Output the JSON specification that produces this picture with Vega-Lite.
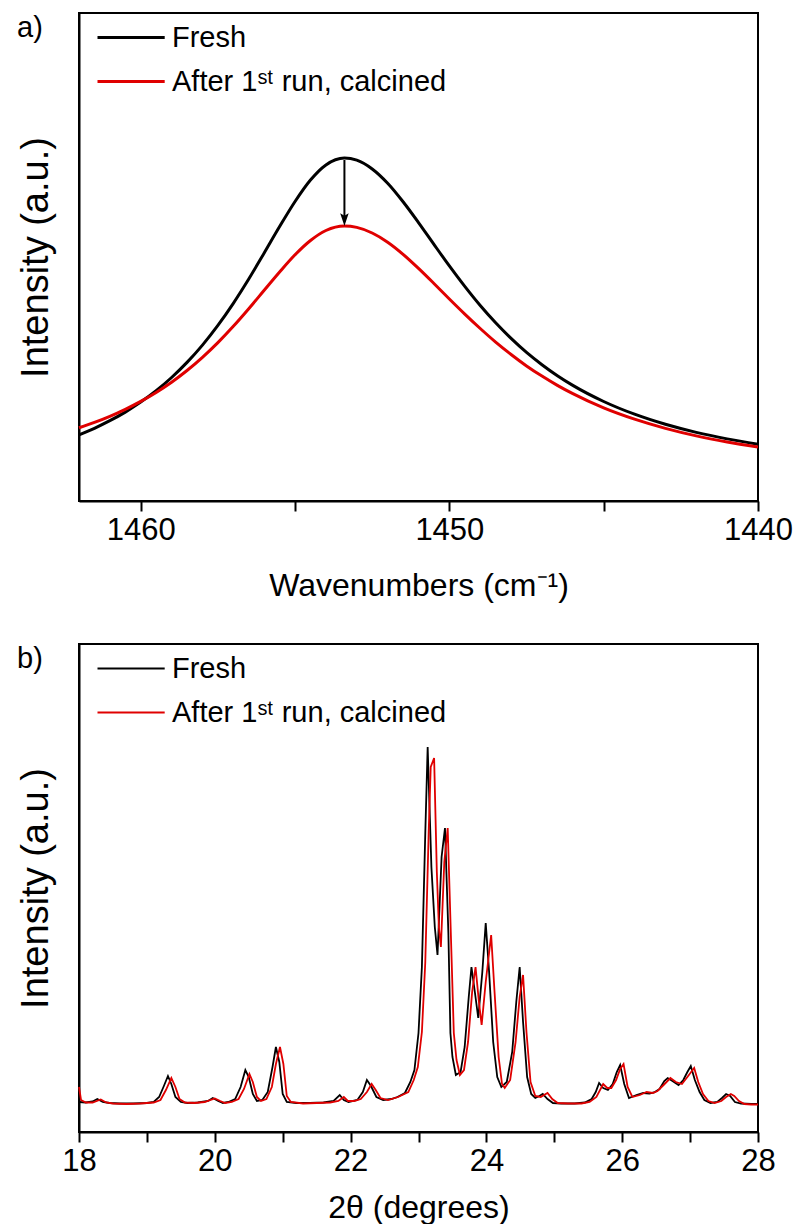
{
  "$schema": "https://vega.github.io/schema/vega-lite/v6.json",
  "background": "white",
  "padding": {"left": 16, "top": 12, "right": 5, "bottom": 0},
  "spacing": 41,
  "config": {
    "font": "Liberation Sans",
    "view": {"stroke": "black", "strokeWidth": 2},
    "axis": {"grid": false, "labelFont": "Liberation Sans", "titleFont": "Liberation Sans", "labelFontSize": 31, "titleFontSize": 32, "titleFontWeight": "normal", "labelColor": "black", "titleColor": "black", "domainColor": "black", "domainWidth": 2, "tickColor": "black", "tickWidth": 2},
    "title": {"font": "Liberation Sans", "fontSize": 29, "fontWeight": "normal", "anchor": "start", "frame": "bounds", "baseline": "top", "offset": -30, "color": "black"},
    "legend": {"labelFont": "Liberation Sans", "labelFontSize": 29, "labelColor": "black", "labelLimit": 600, "padding": 0}
  },
  "datasets": {
    "ir": [
      {"wavenumber": 1462, "intensity": 66.1, "sample": "Fresh"},
      {"wavenumber": 1461.5, "intensity": 72.7, "sample": "Fresh"},
      {"wavenumber": 1461, "intensity": 80.3, "sample": "Fresh"},
      {"wavenumber": 1460.5, "intensity": 88.9, "sample": "Fresh"},
      {"wavenumber": 1460, "intensity": 98.9, "sample": "Fresh"},
      {"wavenumber": 1459.5, "intensity": 110.3, "sample": "Fresh"},
      {"wavenumber": 1459, "intensity": 123.5, "sample": "Fresh"},
      {"wavenumber": 1458.5, "intensity": 138.6, "sample": "Fresh"},
      {"wavenumber": 1458, "intensity": 155.9, "sample": "Fresh"},
      {"wavenumber": 1457.5, "intensity": 175.6, "sample": "Fresh"},
      {"wavenumber": 1457, "intensity": 197.7, "sample": "Fresh"},
      {"wavenumber": 1456.5, "intensity": 222.0, "sample": "Fresh"},
      {"wavenumber": 1456, "intensity": 248.0, "sample": "Fresh"},
      {"wavenumber": 1455.5, "intensity": 274.4, "sample": "Fresh"},
      {"wavenumber": 1455, "intensity": 299.5, "sample": "Fresh"},
      {"wavenumber": 1454.5, "intensity": 321.0, "sample": "Fresh"},
      {"wavenumber": 1454, "intensity": 336.1, "sample": "Fresh"},
      {"wavenumber": 1453.4, "intensity": 343, "sample": "Fresh"},
      {"wavenumber": 1453, "intensity": 340.8, "sample": "Fresh"},
      {"wavenumber": 1452.5, "intensity": 332.0, "sample": "Fresh"},
      {"wavenumber": 1452, "intensity": 317.7, "sample": "Fresh"},
      {"wavenumber": 1451.5, "intensity": 299.2, "sample": "Fresh"},
      {"wavenumber": 1451, "intensity": 278.4, "sample": "Fresh"},
      {"wavenumber": 1450.5, "intensity": 256.6, "sample": "Fresh"},
      {"wavenumber": 1450, "intensity": 235.1, "sample": "Fresh"},
      {"wavenumber": 1449.5, "intensity": 214.6, "sample": "Fresh"},
      {"wavenumber": 1449, "intensity": 195.5, "sample": "Fresh"},
      {"wavenumber": 1448.5, "intensity": 178.2, "sample": "Fresh"},
      {"wavenumber": 1448, "intensity": 162.6, "sample": "Fresh"},
      {"wavenumber": 1447.5, "intensity": 148.6, "sample": "Fresh"},
      {"wavenumber": 1447, "intensity": 136.3, "sample": "Fresh"},
      {"wavenumber": 1446.5, "intensity": 125.3, "sample": "Fresh"},
      {"wavenumber": 1446, "intensity": 115.6, "sample": "Fresh"},
      {"wavenumber": 1445, "intensity": 99.5, "sample": "Fresh"},
      {"wavenumber": 1444, "intensity": 86.8, "sample": "Fresh"},
      {"wavenumber": 1443, "intensity": 76.7, "sample": "Fresh"},
      {"wavenumber": 1442, "intensity": 68.6, "sample": "Fresh"},
      {"wavenumber": 1441, "intensity": 62.1, "sample": "Fresh"},
      {"wavenumber": 1440, "intensity": 56.7, "sample": "Fresh"},
      {"wavenumber": 1462, "intensity": 73.2, "sample": "After 1ˢᵗ run, calcined"},
      {"wavenumber": 1461.5, "intensity": 78.6, "sample": "After 1ˢᵗ run, calcined"},
      {"wavenumber": 1461, "intensity": 84.7, "sample": "After 1ˢᵗ run, calcined"},
      {"wavenumber": 1460.5, "intensity": 91.7, "sample": "After 1ˢᵗ run, calcined"},
      {"wavenumber": 1460, "intensity": 99.6, "sample": "After 1ˢᵗ run, calcined"},
      {"wavenumber": 1459.5, "intensity": 108.6, "sample": "After 1ˢᵗ run, calcined"},
      {"wavenumber": 1459, "intensity": 118.8, "sample": "After 1ˢᵗ run, calcined"},
      {"wavenumber": 1458.5, "intensity": 130.5, "sample": "After 1ˢᵗ run, calcined"},
      {"wavenumber": 1458, "intensity": 143.7, "sample": "After 1ˢᵗ run, calcined"},
      {"wavenumber": 1457.5, "intensity": 158.4, "sample": "After 1ˢᵗ run, calcined"},
      {"wavenumber": 1457, "intensity": 174.7, "sample": "After 1ˢᵗ run, calcined"},
      {"wavenumber": 1456.5, "intensity": 192.3, "sample": "After 1ˢᵗ run, calcined"},
      {"wavenumber": 1456, "intensity": 210.7, "sample": "After 1ˢᵗ run, calcined"},
      {"wavenumber": 1455.5, "intensity": 229.0, "sample": "After 1ˢᵗ run, calcined"},
      {"wavenumber": 1455, "intensity": 246.2, "sample": "After 1ˢᵗ run, calcined"},
      {"wavenumber": 1454.5, "intensity": 260.5, "sample": "After 1ˢᵗ run, calcined"},
      {"wavenumber": 1454, "intensity": 270.5, "sample": "After 1ˢᵗ run, calcined"},
      {"wavenumber": 1453.4, "intensity": 275, "sample": "After 1ˢᵗ run, calcined"},
      {"wavenumber": 1453, "intensity": 273.6, "sample": "After 1ˢᵗ run, calcined"},
      {"wavenumber": 1452.5, "intensity": 268.0, "sample": "After 1ˢᵗ run, calcined"},
      {"wavenumber": 1452, "intensity": 258.8, "sample": "After 1ˢᵗ run, calcined"},
      {"wavenumber": 1451.5, "intensity": 246.7, "sample": "After 1ˢᵗ run, calcined"},
      {"wavenumber": 1451, "intensity": 232.6, "sample": "After 1ˢᵗ run, calcined"},
      {"wavenumber": 1450.5, "intensity": 217.5, "sample": "After 1ˢᵗ run, calcined"},
      {"wavenumber": 1450, "intensity": 202.0, "sample": "After 1ˢᵗ run, calcined"},
      {"wavenumber": 1449.5, "intensity": 186.9, "sample": "After 1ˢᵗ run, calcined"},
      {"wavenumber": 1449, "intensity": 172.5, "sample": "After 1ˢᵗ run, calcined"},
      {"wavenumber": 1448.5, "intensity": 158.9, "sample": "After 1ˢᵗ run, calcined"},
      {"wavenumber": 1448, "intensity": 146.5, "sample": "After 1ˢᵗ run, calcined"},
      {"wavenumber": 1447.5, "intensity": 135.1, "sample": "After 1ˢᵗ run, calcined"},
      {"wavenumber": 1447, "intensity": 124.9, "sample": "After 1ˢᵗ run, calcined"},
      {"wavenumber": 1446.5, "intensity": 115.6, "sample": "After 1ˢᵗ run, calcined"},
      {"wavenumber": 1446, "intensity": 107.3, "sample": "After 1ˢᵗ run, calcined"},
      {"wavenumber": 1445, "intensity": 93.1, "sample": "After 1ˢᵗ run, calcined"},
      {"wavenumber": 1444, "intensity": 81.8, "sample": "After 1ˢᵗ run, calcined"},
      {"wavenumber": 1443, "intensity": 72.6, "sample": "After 1ˢᵗ run, calcined"},
      {"wavenumber": 1442, "intensity": 65.1, "sample": "After 1ˢᵗ run, calcined"},
      {"wavenumber": 1441, "intensity": 59.0, "sample": "After 1ˢᵗ run, calcined"},
      {"wavenumber": 1440, "intensity": 53.9, "sample": "After 1ˢᵗ run, calcined"}
    ],
    "arrow": [
      {"wavenumber": 1453.4, "intensity": 341, "intensity_end": 285}
    ],
    "arrowhead": [
      {"wavenumber": 1453.4, "intensity": 282}
    ],
    "xrd_fresh": [
      [18.00, 30], [18.10, 29.5], [18.20, 30.5], [18.27, 33], [18.35, 30], [18.45, 29], [18.60, 28.5], [18.80, 28.5], [19.00, 29], [19.10, 30], [19.18, 35], [19.25, 46], [19.31, 56], [19.36, 48], [19.42, 35], [19.50, 30], [19.60, 29], [19.75, 29.5], [19.90, 31], [19.97, 34], [20.05, 31], [20.12, 29], [20.20, 30], [20.30, 33], [20.38, 45], [20.45, 62], [20.50, 55], [20.56, 38], [20.62, 31], [20.70, 32], [20.78, 40], [20.85, 65], [20.90, 85], [20.95, 70], [21.00, 38], [21.06, 30], [21.20, 29], [21.40, 29], [21.60, 29.5], [21.75, 31], [21.84, 37], [21.90, 32], [21.97, 30], [22.10, 32], [22.18, 40], [22.24, 52], [22.30, 46], [22.38, 35], [22.48, 32], [22.60, 33], [22.69, 35], [22.80, 39], [22.88, 50], [22.94, 62], [23.00, 99], [23.05, 165], [23.10, 299], [23.135, 385], [23.19, 265], [23.24, 205], [23.28, 177], [23.34, 275], [23.39, 304], [23.44, 199], [23.47, 99], [23.50, 75], [23.55, 57], [23.62, 60], [23.68, 85], [23.74, 135], [23.78, 165], [23.83, 140], [23.88, 114], [23.94, 160], [23.99, 209], [24.04, 160], [24.10, 90], [24.16, 55], [24.22, 45], [24.30, 50], [24.38, 80], [24.44, 130], [24.49, 165], [24.54, 110], [24.60, 55], [24.66, 38], [24.72, 34], [24.78, 36], [24.83, 38], [24.90, 33], [24.98, 29], [25.10, 28.5], [25.30, 28.5], [25.45, 29.5], [25.55, 33], [25.61, 40], [25.66, 49], [25.72, 44], [25.79, 42], [25.86, 48], [25.92, 60], [25.97, 67], [26.03, 48], [26.10, 34], [26.21, 37], [26.31, 39], [26.40, 38.5], [26.47, 39.5], [26.55, 43], [26.62, 51], [26.67, 54], [26.74, 51], [26.83, 47], [26.90, 52], [26.96, 60], [27.01, 66], [27.07, 52], [27.14, 40], [27.21, 32], [27.30, 29], [27.40, 30], [27.47, 34], [27.53, 38], [27.59, 36], [27.66, 30], [27.75, 28.5], [27.90, 28], [28.00, 28]
    ],
    "xrd_calcined": [
      [18.00, 45], [18.03, 32], [18.10, 29.5], [18.20, 29.5], [18.32, 32.5], [18.40, 29.5], [18.50, 28.5], [18.70, 28], [18.90, 28.5], [19.10, 29.5], [19.20, 32], [19.28, 42], [19.36, 54], [19.42, 45], [19.48, 33], [19.56, 29.5], [19.70, 29], [19.85, 30], [20.00, 33.5], [20.08, 31], [20.15, 29], [20.25, 30], [20.35, 33], [20.43, 43], [20.51, 58], [20.56, 50], [20.62, 35], [20.68, 31], [20.76, 33], [20.84, 45], [20.90, 68], [20.96, 85], [21.01, 68], [21.06, 36], [21.12, 30], [21.30, 28.5], [21.50, 29], [21.70, 29.5], [21.82, 31], [21.90, 35], [21.96, 31], [22.05, 31], [22.15, 33], [22.24, 40], [22.31, 48], [22.37, 42], [22.44, 34], [22.55, 32], [22.70, 35], [22.85, 40], [22.93, 52], [22.99, 65], [23.05, 100], [23.10, 170], [23.15, 300], [23.18, 365], [23.23, 374], [23.27, 260], [23.30, 205], [23.33, 185], [23.38, 270], [23.43, 304], [23.48, 190], [23.52, 99], [23.56, 72], [23.61, 57], [23.67, 62], [23.73, 90], [23.79, 140], [23.84, 165], [23.89, 130], [23.93, 107], [23.99, 150], [24.07, 197], [24.12, 140], [24.18, 75], [24.23, 48], [24.27, 44], [24.35, 52], [24.43, 90], [24.49, 135], [24.54, 157], [24.59, 100], [24.65, 50], [24.72, 36], [24.80, 35], [24.90, 39], [24.97, 33], [25.05, 29], [25.20, 28.5], [25.40, 28.5], [25.52, 30], [25.62, 35], [25.72, 48], [25.78, 44], [25.84, 44], [25.91, 52], [25.97, 63], [26.02, 68], [26.08, 45], [26.15, 35], [26.26, 37], [26.36, 40], [26.45, 39], [26.52, 41], [26.61, 47], [26.71, 54], [26.79, 50], [26.88, 48], [26.96, 55], [27.06, 64], [27.12, 50], [27.19, 38], [27.27, 31], [27.36, 29], [27.46, 31], [27.53, 35], [27.60, 38], [27.65, 36], [27.72, 31], [27.80, 28], [27.90, 27.5], [28.00, 27.5]
    ]
  },
  "resolve": {"scale": {"color": "independent"}, "legend": {"color": "independent"}},
  "vconcat": [
    {
      "title": {"text": "a)"},
      "width": 679,
      "height": 488,
      "layer": [
        {
          "data": {"name": "ir"},
          "mark": {"type": "line", "strokeWidth": 3, "interpolate": "monotone"},
          "encoding": {
            "x": {"field": "wavenumber", "type": "quantitative",
              "scale": {"domain": [1440, 1462], "reverse": true, "nice": false, "zero": false},
              "axis": {"title": "Wavenumbers (cm⁻¹)", "values": [1440, 1445, 1450, 1455, 1460], "format": "d", "labelExpr": "datum.value % 10 === 0 ? datum.label : ''", "tickSize": 10, "labelPadding": 4, "titlePadding": 25, "labelFlush": false, "labelOverlap": false, "encode": {"ticks": {"update": {"y2": {"signal": "datum.value % 10 === 0 ? 10 : 5"}}}}}},
            "y": {"field": "intensity", "type": "quantitative",
              "scale": {"domain": [0, 488], "nice": false, "zero": false},
              "axis": {"title": "Intensity (a.u.)", "labels": false, "ticks": false, "titlePadding": 24, "titleFontSize": 38}},
            "color": {"field": "sample", "type": "nominal",
              "scale": {"domain": ["Fresh", "After 1ˢᵗ run, calcined"], "range": ["#000000", "#e00000"]},
              "legend": {"orient": "top-left", "offset": 10, "title": null, "symbolType": "M-0.5,0H5.1", "symbolSize": 576, "symbolStrokeWidth": 3, "labelOffset": 54, "rowPadding": 14}}
          }
        },
        {
          "data": {"name": "arrow"},
          "mark": {"type": "rule", "color": "black", "strokeWidth": 2},
          "encoding": {
            "x": {"field": "wavenumber", "type": "quantitative"},
            "y": {"field": "intensity", "type": "quantitative"},
            "y2": {"field": "intensity_end"}
          }
        },
        {
          "data": {"name": "arrowhead"},
          "mark": {"type": "point", "shape": "M0,1L-0.6,-0.8L0,-0.45L0.6,-0.8Z", "size": 200, "filled": true, "color": "black", "opacity": 1},
          "encoding": {
            "x": {"field": "wavenumber", "type": "quantitative"},
            "y": {"field": "intensity", "type": "quantitative"}
          }
        }
      ]
    },
    {
      "title": {"text": "b)"},
      "width": 679,
      "height": 488,
      "layer": [
        {
          "data": {"name": "xrd_fresh"},
          "transform": [{"calculate": "datum[0]", "as": "two_theta"}, {"calculate": "datum[1]", "as": "intensity"}, {"calculate": "'Fresh'", "as": "sample"}],
          "mark": {"type": "line", "strokeWidth": 1.8},
          "encoding": {
            "x": {"field": "two_theta", "type": "quantitative",
              "scale": {"domain": [18, 28], "nice": false, "zero": false},
              "axis": {"title": "2θ (degrees)", "values": [18, 19, 20, 21, 22, 23, 24, 25, 26, 27, 28], "format": "d", "labelExpr": "datum.value % 2 === 0 ? datum.label : ''", "tickSize": 10, "labelPadding": 4, "titlePadding": 16, "labelFlush": false, "labelOverlap": false, "encode": {"ticks": {"update": {"y2": {"signal": "datum.value % 2 === 0 ? 10 : 5"}}}}}},
            "y": {"field": "intensity", "type": "quantitative",
              "scale": {"domain": [0, 488], "nice": false, "zero": false},
              "axis": {"title": "Intensity (a.u.)", "labels": false, "ticks": false, "titlePadding": 24, "titleFontSize": 38}},
            "color": {"field": "sample", "type": "nominal",
              "scale": {"domain": ["Fresh", "After 1ˢᵗ run, calcined"], "range": ["#000000", "#e00000"]},
              "legend": {"orient": "top-left", "offset": 10, "title": null, "symbolType": "M-0.5,0H5.1", "symbolSize": 576, "symbolStrokeWidth": 1.8, "labelOffset": 54, "rowPadding": 14}}
          }
        },
        {
          "data": {"name": "xrd_calcined"},
          "transform": [{"calculate": "datum[0]", "as": "two_theta"}, {"calculate": "datum[1]", "as": "intensity"}, {"calculate": "'After 1ˢᵗ run, calcined'", "as": "sample"}],
          "mark": {"type": "line", "strokeWidth": 1.8},
          "encoding": {
            "x": {"field": "two_theta", "type": "quantitative"},
            "y": {"field": "intensity", "type": "quantitative"},
            "color": {"field": "sample", "type": "nominal"}
          }
        }
      ]
    }
  ]
}
